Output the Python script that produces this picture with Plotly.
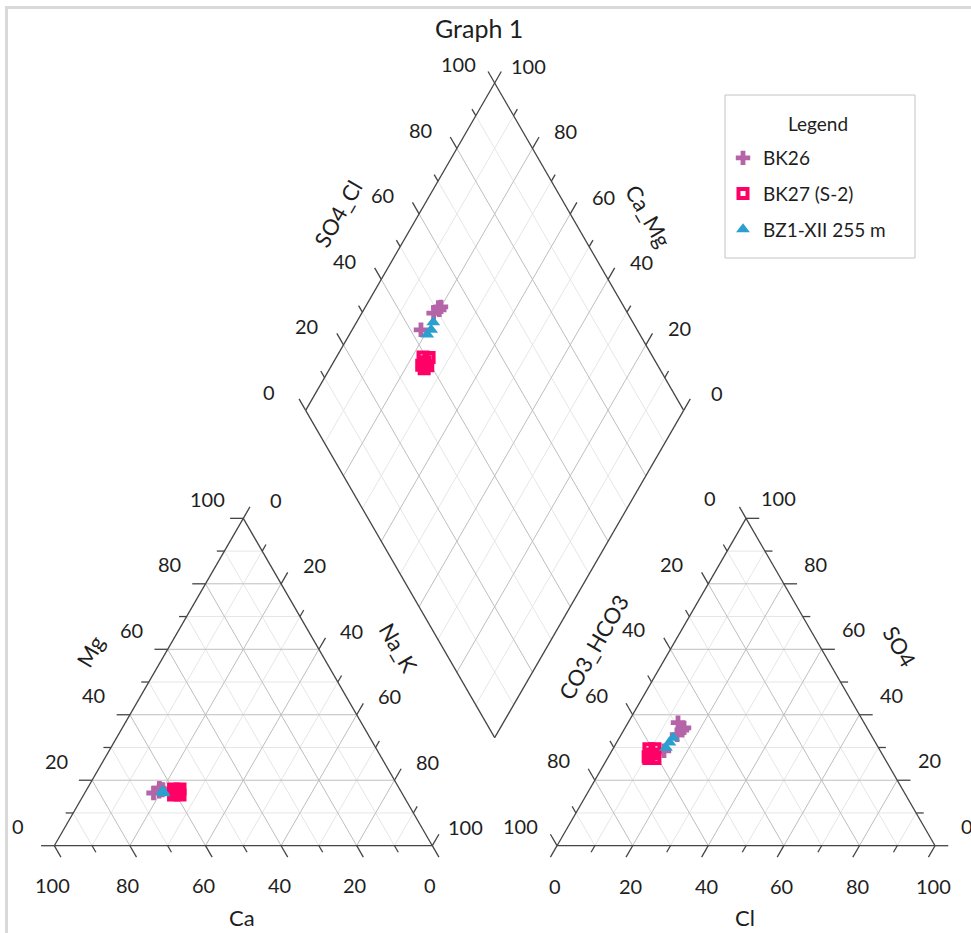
import math
import plotly.graph_objects as go

# ---------------- data (percent of meq/L) ----------------
series_names = ["BK26", "BK27 (S-2)", "BZ1-XII 255 m"]
series_colors = ["#B565A7", "#FF0066", "#2BA0CE"]

# cations
bk26_mg = [16.1, 17.6, 17.0, 16.6, 17.2]
bk26_nak = [18.2, 19.0, 20.0, 19.4, 20.0]
bk27_mg = [15.5, 17.3, 15.5, 17.3, 16.4, 16.0]
bk27_nak = [23.8, 24.6, 25.5, 22.9, 24.2, 25.0]
bz1_mg = [16.4, 16.0, 16.7]
bz1_nak = [20.6, 20.9, 20.3]
# anions
bk26_cl = [13.8, 14.8, 15.6, 13.2, 15.4]
bk26_so4 = [29.0, 33.9, 36.0, 37.6, 35.3]
bk27_cl = [11.0, 11.1, 9.5, 12.6, 11.0, 10.5]
bk27_so4 = [26.6, 29.6, 29.6, 26.6, 28.0, 27.2]
bz1_cl = [13.85, 14.0, 14.2]
bz1_so4 = [29.9, 31.5, 33.0]

tick_values = [0, 10, 20, 30, 40, 50, 60, 70, 80, 90, 100]
tick_labels = ["0", "", "20", "", "40", "", "60", "", "80", "", "100"]

# ---------------- geometry ----------------
H = math.sqrt(3) / 2
GAP = 33.0
S = 3.78            # pixels per percent unit
X0, Y0 = 54.3, 845.7
W, HP = 971, 933
FONT = "Lato"
TXT = "#1e1e1e"

V_left = {"Ca": (0.0, 0.0), "Mg": (50.0, 100 * H), "NaK": (100.0, 0.0)}
V_right = {"HCO3": (100 + GAP, 0.0), "SO4": (150 + GAP, 100 * H), "Cl": (200 + GAP, 0.0)}
B = (100 + GAP / 2, GAP * H)


def tern(V, comp):
    x = sum(comp[k] * V[k][0] for k in V) / 100.0
    y = sum(comp[k] * V[k][1] for k in V) / 100.0
    return x, y


def diamond(c, a):
    return B[0] + 0.5 * (a - c), B[1] + H * (a + c)


def off(p, dx, dy):
    return p[0] + dx / S, p[1] - dy / S


def unit(p, q):
    dx, dy = p[0] - q[0], p[1] - q[1]
    n = math.hypot(dx, dy)
    return dx / n, dy / n


major_x, major_y, minor_x, minor_y = [], [], [], []
frame_x, frame_y = [], []
ann = []


def seg(xs, ys, p, q):
    xs += [p[0], q[0], None]
    ys += [p[1], q[1], None]


def label(p, text, size=20, angle=0):
    ann.append(dict(x=p[0], y=p[1], text=text, showarrow=False, textangle=angle,
                    xanchor="center", yanchor="middle",
                    font=dict(family=FONT, size=size, color=TXT)))


def triangle(V, axes, titles):
    keys = list(V)
    pts = [V[k] for k in keys] + [V[keys[0]]]
    for i in range(3):
        seg(frame_x, frame_y, pts[i], pts[i + 1])
    for A in keys:
        others = [k for k in keys if k != A]
        for k in range(10, 100, 10):
            p1 = tern(V, {A: k, others[0]: 100 - k, others[1]: 0})
            p2 = tern(V, {A: k, others[0]: 0, others[1]: 100 - k})
            if k % 20 == 0:
                seg(major_x, major_y, p1, p2)
            else:
                seg(minor_x, minor_y, p1, p2)
    for (A, edge_zero, other_zero, (ldx, ldy)) in axes:
        rest = [k for k in keys if k not in (A, edge_zero)][0]
        rest2 = [k for k in keys if k not in (A, other_zero)][0]
        e50 = tern(V, {A: 50, edge_zero: 0, rest: 50})
        i50 = tern(V, {A: 50, other_zero: 0, rest2: 50})
        d = unit(e50, i50)
        for v, t in zip(tick_values, tick_labels):
            e = tern(V, {A: v, edge_zero: 0, rest: 100 - v})
            ln = 3.5 if v % 20 == 0 else 2.0
            seg(frame_x, frame_y, e, (e[0] + d[0] * ln, e[1] + d[1] * ln))
            if t:
                label(off(e, ldx, ldy), t)
    for (text, comp, dx, dy, ang) in titles:
        label(off(tern(V, comp), dx, dy), text, size=22, angle=ang)


triangle(V_left,
         [("Mg", "NaK", "Ca", (-36, -19.5)),
          ("NaK", "Ca", "Mg", (33, -18.5)),
          ("Ca", "Mg", "NaK", (-2, 39.5))],
         [("Mg", {"Mg": 50, "Ca": 50, "NaK": 0}, -59, -31, -60),
          ("Na_K", {"Mg": 50, "Ca": 0, "NaK": 50}, 61, -35, 60),
          ("Ca", {"Mg": 0, "Ca": 50, "NaK": 50}, -1, 72, 0)])

triangle(V_right,
         [("HCO3", "Cl", "SO4", (-36.5, -20)),
          ("SO4", "HCO3", "Cl", (32, -20)),
          ("Cl", "SO4", "HCO3", (-2, 40))],
         [("CO3_HCO3", {"HCO3": 50, "SO4": 50, "Cl": 0}, -58.5, -35, -60),
          ("SO4", {"HCO3": 0, "SO4": 50, "Cl": 50}, 59.5, -36, 60),
          ("Cl", {"HCO3": 50, "SO4": 0, "Cl": 50}, -1, 72, 0)])

# diamond
dpts = [diamond(0, 0), diamond(100, 0), diamond(100, 100), diamond(0, 100), diamond(0, 0)]
for i in range(4):
    seg(frame_x, frame_y, dpts[i], dpts[i + 1])
for k in range(10, 100, 10):
    tx, ty = (major_x, major_y) if k % 20 == 0 else (minor_x, minor_y)
    seg(tx, ty, diamond(k, 0), diamond(k, 100))
    seg(tx, ty, diamond(0, k), diamond(100, k))
dA = unit(diamond(100, 50), diamond(0, 50))
dC = unit(diamond(50, 100), diamond(50, 0))
for v, t in zip(tick_values, tick_labels):
    ln = 3.5 if v % 20 == 0 else 2.0
    e = diamond(100, v)
    seg(frame_x, frame_y, e, (e[0] + dA[0] * ln, e[1] + dA[1] * ln))
    if t:
        label(off(e, -36.5, -18.5), t)
    e = diamond(v, 100)
    seg(frame_x, frame_y, e, (e[0] + dC[0] * ln, e[1] + dC[1] * ln))
    if t:
        label(off(e, 33.5, -17), t)
mid_l = diamond(100, 50)
mid_r = diamond(50, 100)
label(off(mid_l, -62, -33), "SO4_Cl", size=22, angle=-60)
label(off(mid_r, 59, -31), "Ca_Mg", size=22, angle=60)

fig = go.Figure()
fig.add_trace(go.Scatter(x=minor_x, y=minor_y, mode="lines", line=dict(color="#E6E6E6", width=1),
                         hoverinfo="skip", showlegend=False))
fig.add_trace(go.Scatter(x=major_x, y=major_y, mode="lines", line=dict(color="#BEBEBE", width=1),
                         hoverinfo="skip", showlegend=False))
fig.add_trace(go.Scatter(x=frame_x, y=frame_y, mode="lines", line=dict(color="#454545", width=1.3),
                         hoverinfo="skip", showlegend=False))

series = [
    (bk26_mg, bk26_nak, bk26_cl, bk26_so4, dict(symbol="cross", size=12)),
    (bk27_mg, bk27_nak, bk27_cl, bk27_so4, dict(symbol="square-open", size=9, line=dict(width=4))),
    (bz1_mg, bz1_nak, bz1_cl, bz1_so4, dict(symbol="triangle-up", size=12)),
]
for idx, (mg, nak, cl, so4, mk) in enumerate(series):
    xs, ys = [], []
    for m, n, c, s in zip(mg, nak, cl, so4):
        ca = 100 - m - n
        hco3 = 100 - c - s
        p1 = tern(V_left, {"Ca": ca, "Mg": m, "NaK": n})
        p2 = tern(V_right, {"HCO3": hco3, "SO4": s, "Cl": c})
        p3 = diamond(ca + m, s + c)
        for p in (p1, p2, p3):
            xs.append(p[0])
            ys.append(p[1])
    marker = dict(color=series_colors[idx], **mk)
    if "line" in marker:
        marker["line"]["color"] = series_colors[idx]
    fig.add_trace(go.Scatter(x=xs, y=ys, mode="markers", name=series_names[idx],
                             legendgroup=series_names[idx], marker=marker))

# title
ann.append(dict(x=(478.5 - X0) / S, y=(Y0 - 28) / S, text="Graph 1", showarrow=False,
                xanchor="center", yanchor="middle", font=dict(family=FONT, size=25, color=TXT)))
# legend heading (inside the legend frame drawn below)
ann.append(dict(x=818 / W, y=1 - 123 / HP, xref="paper", yref="paper", text="Legend", showarrow=False,
                xanchor="center", yanchor="middle", font=dict(family=FONT, size=19, color=TXT)))

fig.update_layout(
    width=W, height=HP, autosize=False,
    margin=dict(l=0, r=0, t=0, b=0),
    paper_bgcolor="white", plot_bgcolor="white",
    xaxis=dict(range=[-X0 / S, (W - X0) / S], visible=False, fixedrange=True),
    yaxis=dict(range=[-(HP - Y0) / S, Y0 / S], visible=False, fixedrange=True),
    annotations=ann,
    showlegend=True,
    legend=dict(x=723 / W, y=1 - 139 / HP, xanchor="left", yanchor="top",
                bgcolor="rgba(0,0,0,0)", borderwidth=0,
                font=dict(family=FONT, size=19, color=TXT),
                tracegroupgap=8, itemsizing="trace"),
    shapes=[
        dict(type="rect", xref="paper", yref="paper",
             x0=6.5 / W, x1=1 + 20 / W, y0=-20 / HP, y1=1 - 7.5 / HP,
             line=dict(color="#D9D9D9", width=3), layer="below"),
        dict(type="rect", xref="paper", yref="paper",
             x0=725 / W, x1=915 / W, y0=1 - 258 / HP, y1=1 - 95 / HP,
             line=dict(color="#C4C4C4", width=1), fillcolor="white", layer="below"),
    ],
)

fig.write_html("out.html", config={"displayModeBar": False},
               post_script="document.body.style.margin='0px';document.body.style.overflow='hidden';")
